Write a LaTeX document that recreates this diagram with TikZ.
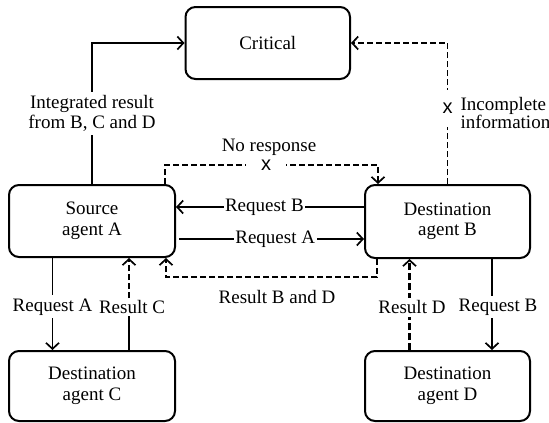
\documentclass[tikz,border=0pt]{standalone}
\usepackage{fontspec}
\setmainfont{LiberationSerif}[Extension=.ttf,UprightFont=*-Regular,BoldFont=*-Bold,ItalicFont=*-Italic]
\newfontfamily\xfont{Liberation Sans}
\usetikzlibrary{arrows.meta}
\begin{document}
\begin{tikzpicture}[x=1pt,y=-1pt,
  every node/.style={font=\rmfamily\fontsize{19}{20.5}\selectfont},
  box/.style={draw,line width=2pt,rounded corners=10pt,inner sep=0pt,align=center},
  conn/.style={line width=1.4pt},
  arr/.style={-{Straight Barb[length=6pt,width=13pt,line width=1.7pt]}},
  dsh/.style={dash pattern=on 6pt off 3pt},
  lbl/.style={fill=white,inner xsep=1.5pt,inner ysep=3pt,align=center},
  xmark/.style={fill=white,font=\xfont\fontsize{20}{20}\selectfont,inner xsep=15pt,inner ysep=12pt}]
\useasboundingbox (0,0) rectangle (549,423);

% boxes
\node[box,minimum width=164.5pt,minimum height=72pt] (crit) at (267.75,43) {Critical};
\node[box,minimum width=166pt,minimum height=72pt] (A) at (92,221) {Source\\agent A};
\node[box,minimum width=165pt,minimum height=73pt] (B) at (447.5,221.5) {Destination\\agent B};
\node[box,minimum width=166pt,minimum height=70pt] (C) at (92,386) {Destination\\agent C};
\node[box,minimum width=165pt,minimum height=70pt] (D) at (447.5,386) {Destination\\agent D};

% helper coordinates
\coordinate (nr1) at (165,165);
\coordinate (nr2) at (378,165);
\coordinate (yRB) at (0,207);
\coordinate (yRA) at (0,239);
\coordinate (rbd1) at (377,277);
\coordinate (rbd2) at (166,277);
\coordinate (xAC) at (52.5,0);
\coordinate (xRC) at (129,0);
\coordinate (xRD) at (409.5,0);
\coordinate (xBD) at (492,0);

% A -> Critical
\draw[conn,arr] (A.north) |- node[lbl,pos=0.25] (lint) {Integrated result\\from B, C and D} (crit.west);

% B -> Critical (incomplete)
\draw[conn,dsh,arr] (B.north) |- node[xmark,pos=0.268,inner xsep=3pt,inner ysep=13pt] (xinc) {x} (crit.east);
\node[anchor=west,align=left,font=\rmfamily\fontsize{19}{17.5}\selectfont] (linc) at (457,113) {Incomplete\\information};

% no response
\draw[conn,dsh,arr] (A.north -| nr1) -- (nr1) -- node[xmark,pos=0.475,inner ysep=4pt] (xnr) {x} (nr2) -- (B.north -| nr2);
\node (lnr) at (269,147) {No response};

% Request B and Request A between A and B
\draw[conn,arr] (B.west |- yRB) -- node[lbl,pos=0.53,inner ysep=0pt] (lrb) {Request B} (A.east |- yRB);
\draw[conn,arr] ([xshift=3pt]A.east |- yRA) -- node[lbl,pos=0.52,inner ysep=0pt] (lra) {Request A} (B.west |- yRA);

% Result B and D
\draw[conn,dsh,arr] (B.south -| rbd1) -- (rbd1) -- (rbd2) -- (A.south -| rbd2);
\node (lrbd) at (277,297) {Result B and D};

% A -> C
\draw[conn,arr] (A.south -| xAC) -- node[lbl,pos=0.53] (lrac) {Request A} (C.north -| xAC);

% C -> A (Result C)
\node[lbl,inner ysep=2pt] (lrc) at (132,307) {Result C};
\draw[conn] (C.north -| xRC) -- (xRC |- lrc.south);
\draw[conn,dsh,arr] (xRC |- lrc.north) -- (A.south -| xRC);

% D -> B (Result D)
\draw[line width=2.6pt,dash pattern=on 7pt off 3pt,-{Straight Barb[length=6pt,width=13pt,line width=1.7pt]}] (D.north -| xRD) -- node[lbl,pos=0.47,xshift=2.5pt] (lrd) {Result D} (B.south -| xRD);

% B -> D (Request B)
\draw[conn,arr] (B.south -| xBD) -- node[lbl,pos=0.53,xshift=6pt] (lrbd2) {Request B} (D.north -| xBD);
\end{tikzpicture}
\end{document}
